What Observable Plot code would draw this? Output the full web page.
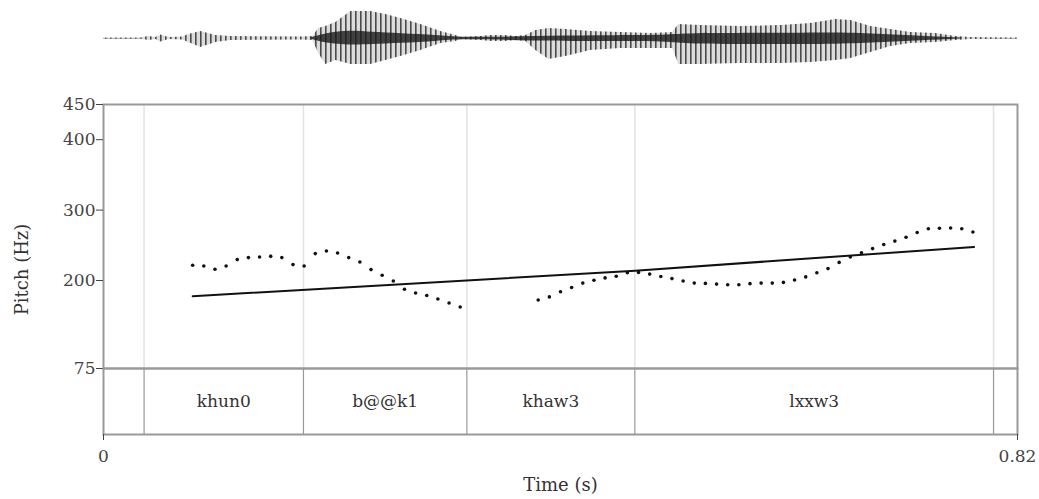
<!DOCTYPE html>
<html>
<head>
<meta charset="utf-8">
<script src="https://cdn.jsdelivr.net/npm/d3@7"></script>
<script src="https://cdn.jsdelivr.net/npm/@observablehq/plot@0.6"></script>
<style>
  body { margin: 0; background: #fff; }
  #chart { position: relative; width: 1039px; height: 499px; overflow: hidden; background: #fff; }
  #chart svg { position: absolute; left: 0; top: 0; }
</style>
</head>
<body>
<div id="chart"></div>
<script>
// ---------- data ----------
const timeDomain = [0, 0.82];
const xTicks = [0, 0.82];
const yTicks = [75, 200, 300, 400, 450];

// pitch track, voiced segment 1
const pitchTimes1 = [0.08,0.09,0.10,0.11,0.12,0.13,0.14,0.15,0.16,0.17,0.18,0.19,0.20,0.21,0.22,0.23,0.24,0.25,0.26,0.27,0.28,0.29,0.30,0.31,0.32];
const pitchHz1 = [221.6,220.6,215.9,220.6,229.7,232.5,233.3,234.3,232.5,222.6,220.6,238.2,241.9,239.0,232.5,226.2,215.5,207.4,199.3,187.5,182.3,178.6,173.8,168.1,162.4];
// pitch track, voiced segment 2
const pitchTimes2 = [0.39,0.40,0.41,0.42,0.43,0.44,0.45,0.46,0.47,0.48,0.49,0.50,0.51,0.52,0.53,0.54,0.55,0.56,0.57,0.58,0.59,0.60,0.61,0.62,0.63,0.64,0.65,0.66,0.67,0.68,0.69,0.70,0.71,0.72,0.73,0.74,0.75,0.76,0.77,0.78];
const pitchHz2 = [172.3,176.7,184.1,190.1,196.3,200.3,203.7,206.1,211.1,211.5,209.1,205.7,202.7,199.3,196.3,195.9,194.9,193.9,193.9,195.5,196.3,196.3,197.3,200.7,205.1,211.1,216.9,225.7,233.5,239.4,245.3,251.2,256.0,261.4,268.2,273.6,274.2,274.6,273.6,268.8];

// stylized trend line
const trendTimes = [0.08, 0.477, 0.781];
const trendHz = [177.6, 214.0, 247.7];

// text tier
const boundaryTimes = [0.0364, 0.1794, 0.326, 0.4767, 0.7985];
const tierLabels = ["khun0", "b@@k1", "khaw3", "lxxw3"];
const tierStarts = [0.0364, 0.1794, 0.326, 0.4767];
const tierEnds = [0.1794, 0.326, 0.4767, 0.7985];

// waveform envelope (amplitude up / down, px-like units)
const waveTimes = [0.000,0.0335,0.0406,0.0469,0.0514,0.0586,0.0711,0.0765,0.0873,0.1008,0.1142,0.1770,0.1878,0.1931,0.1994,0.2084,0.2219,0.2398,0.2533,0.2667,0.2847,0.3026,0.3161,0.3206,0.3385,0.3475,0.3609,0.3699,0.3789,0.3879,0.3996,0.4148,0.4372,0.4641,0.4910,0.5107,0.5161,0.5359,0.5717,0.6076,0.6346,0.6570,0.6705,0.6884,0.7064,0.7243,0.7467,0.7647,0.7781,0.82];
const waveUp   = [0.5,0.5,2,1,3.5,1,1.5,4,7,3,2,1.5,2,10,12,16,27,27,24,20,14,7,3,1,2,3,3,2,3,8,10,9,7,6,5,6,14,13,12,13,15,19,18,12,9,6,5,2,1,0.5];
const waveDown = [0.5,0.5,2,1,3.5,1,1.5,4,9,4,2,1.5,2,15,26,22,26,26,22,18,12,5,3,1,2,3,3,2,3,12,21,18,12,10,10,10,26,26,25,25,24,22,20,14,8,5,4,2,1,0.5];
// dark core of the waveform
const coreTimes = [0.186,0.199,0.222,0.240,0.267,0.300,0.320,0.388,0.440,0.510,0.520,0.600,0.660,0.700,0.740,0.770];
const coreUp    = [0.5,5,8,6,5,3,0.5,2,3,3,5,5,6,4,2,0.5];
const coreDown  = [0.5,5,7,6,5,3,0.5,3,3,3,6,6,6,4,2,0.5];

// ---------- build tables ----------
const pitch = [
  ...pitchTimes1.map((t, i) => ({t, hz: pitchHz1[i]})),
  ...pitchTimes2.map((t, i) => ({t, hz: pitchHz2[i]}))
];
const trend = trendTimes.map((t, i) => ({t, hz: trendHz[i]}));
const tier = tierLabels.map((label, i) => ({label, start: tierStarts[i], end: tierEnds[i]}));
const wave = waveTimes.map((t, i) => ({t, up: waveUp[i], down: waveDown[i]}));
const core = coreTimes.map((t, i) => ({t, up: coreUp[i], down: coreDown[i]}));

const W = 1039, H = 499;
const FONT = "DejaVu Serif";
const chart = document.getElementById("chart");
const baseStyle = {background: "transparent", fontFamily: FONT, fontSize: "17px", color: "#333", overflow: "visible"};

// ---------- waveform ----------
const wavePlot = Plot.plot({
  width: W, height: 76,
  marginLeft: 103, marginRight: 22, marginTop: 0, marginBottom: 0,
  style: baseStyle,
  x: {domain: timeDomain, axis: null},
  y: {domain: [-38, 38], axis: null},
  marks: [
    Plot.ruleY([0], {stroke: "#999", strokeWidth: 1}),
    Plot.areaY(wave, {x: "t", y1: d => -d.down, y2: d => d.up, fill: "url(#wstripes)"}),
    Plot.areaY(core, {x: "t", y1: d => -d.down, y2: d => d.up, fill: "#1a1a1a", fillOpacity: 0.8, curve: "basis"})
  ]
});
const ns = "http://www.w3.org/2000/svg";
const defs = document.createElementNS(ns, "defs");
defs.innerHTML = '<pattern id="wstripes" x="0" y="0" width="5" height="10" patternUnits="userSpaceOnUse">' +
  '<rect width="5" height="10" fill="#dcdcdc"/><rect width="1.6" height="10" fill="#4a4a4a"/></pattern>';
wavePlot.prepend(defs);
chart.appendChild(wavePlot);

// ---------- pitch panel ----------
const pitchPlot = Plot.plot({
  width: W, height: H,
  marginLeft: 103, marginRight: 22, marginTop: 104, marginBottom: H - 368,
  style: baseStyle,
  x: {domain: timeDomain, axis: null},
  y: {domain: [75, 450], axis: null},
  marks: [
    Plot.ruleX(boundaryTimes, {stroke: "#e3e3e3", strokeWidth: 1.5}),
    Plot.line(trend, {x: "t", y: "hz", stroke: "#111", strokeWidth: 2}),
    Plot.dot(pitch, {x: "t", y: "hz", r: 1.8, fill: "#111", stroke: null}),
    Plot.frame({stroke: "#999", strokeWidth: 2}),
    Plot.axisY({ticks: yTicks, tickFormat: d => String(d), tickSize: 7, tickPadding: 1, fontSize: 17, label: null, color: "#444"}),
    Plot.text(["Pitch (Hz)"], {text: d => d, frameAnchor: "left", textAnchor: "middle", lineAnchor: "middle", dx: -81, dy: 33, rotate: -90, fontSize: 18, fill: "#333"})
  ]
});
chart.appendChild(pitchPlot);

// ---------- text tier + time axis ----------
const tierPlot = Plot.plot({
  width: W, height: H,
  marginLeft: 103, marginRight: 22, marginTop: 368, marginBottom: H - 434,
  style: baseStyle,
  x: {domain: timeDomain, axis: null},
  y: {axis: null},
  marks: [
    Plot.ruleX(boundaryTimes, {stroke: "#999", strokeWidth: 1.2}),
    Plot.frame({stroke: "#999", strokeWidth: 2}),
    Plot.text(tier, {x: d => (d.start + d.end) / 2, text: "label", frameAnchor: "middle", fontSize: 17, fill: "#333"}),
    Plot.axisX({ticks: xTicks, tickFormat: d => d === 0 ? "0" : d.toFixed(2), tickSize: 6, tickPadding: 9, fontSize: 17, label: null, color: "#444"}),
    Plot.text(["Time (s)"], {text: d => d, frameAnchor: "bottom", dy: 51, lineAnchor: "middle", fontSize: 18, fill: "#333"})
  ]
});
chart.appendChild(tierPlot);
</script>
</body>
</html>
